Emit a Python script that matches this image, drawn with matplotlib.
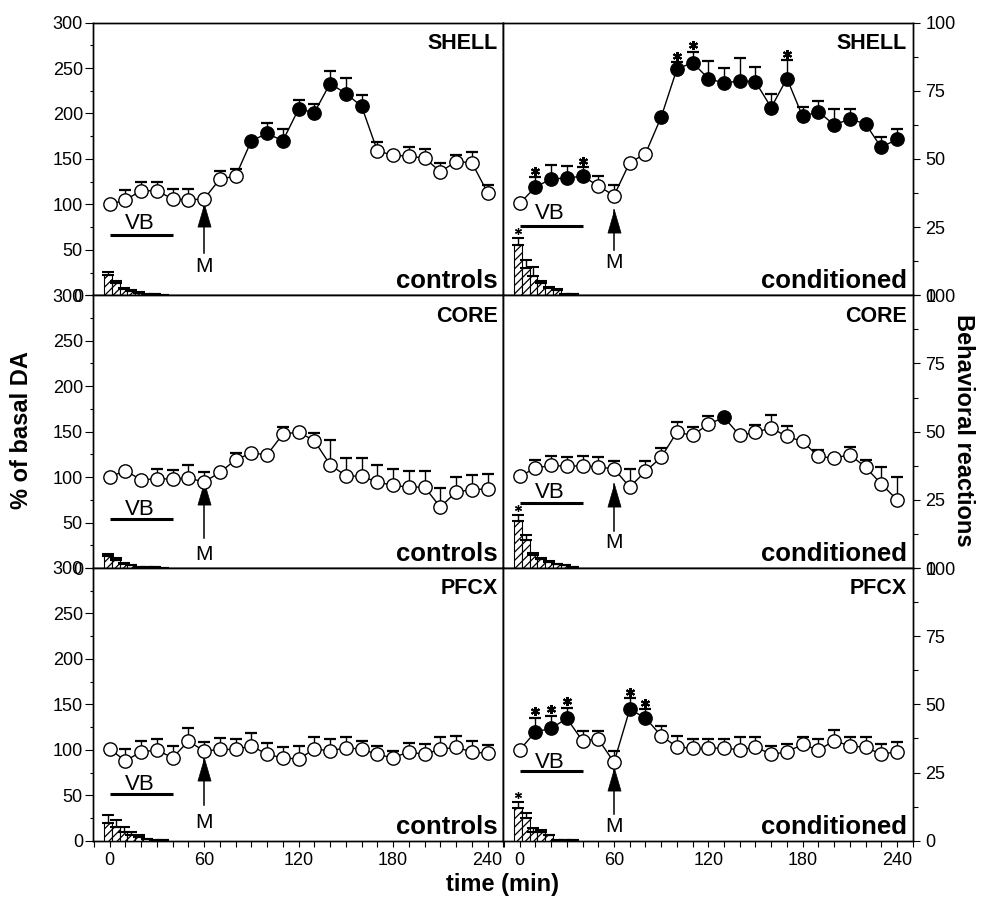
import matplotlib
matplotlib.use('Agg')
import matplotlib.pyplot as plt
import numpy as np
from matplotlib.ticker import MultipleLocator, FixedLocator
from matplotlib.path import Path

plt.rcParams['font.family'] = ['Liberation Sans', 'DejaVu Sans']
plt.rcParams['hatch.linewidth'] = 0.9

# ---------------- data ----------------
time_min = list(range(0, 250, 10))
bar_time = [0, 5, 10, 15, 20, 25, 30, 35]
regions = ['SHELL', 'CORE', 'PFCX']
groups = ['controls', 'conditioned']
x_ticks = [0, 60, 120, 180, 240]
da_ticks = [0, 50, 100, 150, 200, 250, 300]
beh_ticks = [0, 25, 50, 75, 100]

shell_ctrl_da = [100, 105, 115, 115, 106, 105, 106, 128, 131, 170, 178, 170, 205,
                 201, 233, 222, 208, 159, 154, 153, 151, 136, 147, 146, 113]
shell_ctrl_sem = [0, 11, 10, 9.5, 11, 11.5, 0, 8.6, 7.5, 0, 11, 13, 10,
                  10, 13.5, 17, 12.5, 9.5, 0, 10, 10, 10, 7.5, 11.5, 8]
shell_ctrl_sig = [0, 0, 0, 0, 0, 0, 0, 0, 0, 1, 1, 1, 1, 1, 1, 1, 1, 0, 0, 0, 0, 0, 0, 0, 0]
shell_ctrl_star = []
shell_ctrl_bar = [7.3, 4.5, 2.3, 1.5, 1.0, 0.5, 0.3, 0.2]
shell_ctrl_bar_sem = [1.3, 0.8, 0.4, 0.3, 0.2, 0, 0, 0]
shell_ctrl_bar_star = False

shell_cond_da = [101, 119, 128, 129, 131, 120.5, 109.6, 146, 155.7, 196, 248.8, 256, 238.5,
                 233.4, 236, 234.8, 206.6, 238.5, 196.7, 202, 187.6, 193.8, 188.7, 162.6, 171.9]
shell_cond_sem = [0, 11, 15.6, 12.8, 10, 10.3, 12, 0, 0, 0, 8, 12, 19.5,
                  17, 25.5, 16, 15, 20.5, 11, 12, 17.4, 11, 0, 11, 11]
shell_cond_sig = [0, 1, 1, 1, 1, 0, 0, 0, 0, 1, 1, 1, 1, 1, 1, 1, 1, 1, 1, 1, 1, 1, 1, 1, 1]
shell_cond_star = [1, 4, 10, 11, 17]
shell_cond_bar = [18.6, 10.0, 7.0, 4.5, 2.7, 2.1, 0.6, 0.3]
shell_cond_bar_sem = [2.4, 2.8, 3.4, 0.9, 0.5, 0.3, 0, 0]
shell_cond_bar_star = True

core_ctrl_da = [100.1, 107, 97, 98.2, 97.9, 99, 94.6, 105.2, 119, 126.5, 124.6, 147.3, 149.5,
                140, 113.6, 101.5, 100.8, 94.6, 90.9, 89, 89, 67, 83.6, 86.2, 87]
core_ctrl_sem = [0, 0, 0, 10.7, 9.5, 14, 10.6, 0, 8, 0, 0, 7.7, 0,
                 8.5, 26.7, 20, 20, 19, 18.3, 18, 18, 21, 17, 16.4, 16]
core_ctrl_sig = [0] * 25
core_ctrl_star = []
core_ctrl_bar = [4.3, 3.1, 1.5, 1.0, 0.5, 0.3, 0.2, 0.1]
core_ctrl_bar_sem = [0.9, 0.5, 0.2, 0, 0, 0, 0, 0]
core_ctrl_bar_star = False

core_cond_da = [100.8, 110, 112.9, 111.8, 112.5, 111, 109.2, 89, 106.3, 121.7, 149.5, 145.8, 158.3,
                165.6, 145.8, 149.5, 154, 144.7, 139.2, 122.7, 121, 124.6, 111, 92.4, 75.2]
core_cond_sem = [0, 8.4, 10.6, 10, 11, 11, 9, 20, 11, 10, 11, 9, 8.4,
                 0, 0, 7.3, 13.8, 12, 0, 7.4, 0, 9, 7.4, 18.3, 25]
core_cond_sig = [0] * 13 + [1] + [0] * 11
core_cond_star = []
core_cond_bar = [17.1, 10.2, 4.9, 3.3, 2.2, 1.5, 1.0, 0.5]
core_cond_bar_sem = [2.2, 1.8, 0.6, 0.5, 0.3, 0, 0, 0]
core_cond_bar_star = True

pfcx_ctrl_da = [100.8, 87.9, 97.8, 99.7, 91.2, 109.6, 98.6, 100.4, 100.4, 104.4, 94.9, 91.2, 89.8,
                100.8, 98.9, 102.2, 100.8, 94.9, 91.2, 97.8, 94.9, 100.8, 102.6, 97.8, 96]
pfcx_ctrl_sem = [0, 13, 12, 12, 13, 14, 10, 13, 11.4, 13.6, 12.8, 11.4, 14.6,
                 12.8, 12.9, 11.4, 9, 9, 7.7, 10, 11.3, 13.5, 12.8, 12, 9]
pfcx_ctrl_sig = [0] * 25
pfcx_ctrl_star = []
pfcx_ctrl_bar = [6.4, 5.1, 3.3, 2.1, 1.5, 0.6, 0.3, 0.2]
pfcx_ctrl_bar_sem = [3.0, 2.5, 1.6, 1.2, 0.6, 0, 0, 0]
pfcx_ctrl_bar_star = False

pfcx_cond_da = [99.7, 119.8, 123.5, 134.5, 109.9, 111.8, 86.2, 144.4, 135.2, 115.4, 103.3, 101.5, 101.5,
                102.2, 99.7, 103.3, 94.9, 97.8, 105.9, 99.7, 109.9, 104.4, 102.6, 95.3, 97.8]
pfcx_cond_sem = [0, 15.4, 14, 11.7, 10.6, 9, 12.7, 12.7, 9.5, 11, 11.7, 10.3, 10.3,
                 9.6, 14.6, 11, 9.5, 8.4, 8.4, 12.1, 11.7, 9.2, 11, 11, 10.3]
pfcx_cond_sig = [0, 1, 1, 1, 0, 0, 0, 1, 1] + [0] * 16
pfcx_cond_star = [1, 2, 3, 7, 8]
pfcx_cond_bar = [11.9, 8.4, 3.3, 3.3, 2.1, 0.3, 0.2, 0.1]
pfcx_cond_bar_sem = [2.4, 1.6, 1.2, 0.5, 0, 0, 0, 0]
pfcx_cond_bar_star = True

panels = [
    [(shell_ctrl_da, shell_ctrl_sem, shell_ctrl_sig, shell_ctrl_star, shell_ctrl_bar, shell_ctrl_bar_sem, shell_ctrl_bar_star),
     (shell_cond_da, shell_cond_sem, shell_cond_sig, shell_cond_star, shell_cond_bar, shell_cond_bar_sem, shell_cond_bar_star)],
    [(core_ctrl_da, core_ctrl_sem, core_ctrl_sig, core_ctrl_star, core_ctrl_bar, core_ctrl_bar_sem, core_ctrl_bar_star),
     (core_cond_da, core_cond_sem, core_cond_sig, core_cond_star, core_cond_bar, core_cond_bar_sem, core_cond_bar_star)],
    [(pfcx_ctrl_da, pfcx_ctrl_sem, pfcx_ctrl_sig, pfcx_ctrl_star, pfcx_ctrl_bar, pfcx_ctrl_bar_sem, pfcx_ctrl_bar_star),
     (pfcx_cond_da, pfcx_cond_sem, pfcx_cond_sig, pfcx_cond_star, pfcx_cond_bar, pfcx_cond_bar_sem, pfcx_cond_bar_star)],
]

# annotation placement (VB line y, VB text baseline, arrow tip, arrow tail, M baseline)
annot = [
    [(66, 73, 100.5, 47, 26), (76, 84, 93.4, 50, 30)],
    [(54, 58, 94.6, 33, 9.2), (71, 77, 92.4, 41, 22)],
    [(51, 55.7, 91.2, 39, 13.6), (76.6, 80.2, 79.5, 29, 9.9)],
]

# ---------------- figure ----------------
fig = plt.figure(figsize=(9.82, 8.97), dpi=100)
W, H = 982.0, 897.0
col_x = [93.3 / W, 503.3 / W]
col_w = [410.0 / W, 409.4 / W]
ph = 272.7 / H
bottom0 = (H - 840.7) / H

arrow_path = Path([(-0.29, -1.0), (0.29, -1.0), (0.0, 0.0), (-0.29, -1.0)],
                  [Path.MOVETO, Path.LINETO, Path.LINETO, Path.CLOSEPOLY])

t = np.array(time_min, dtype=float)
bt = np.array(bar_time, dtype=float)

for r in range(3):
    for c in range(2):
        da, sem, sig, stars, bars, bsem, bstar = panels[r][c]
        da = np.array(da, float)
        sem = np.array(sem, float)
        sig = np.array(sig, bool)
        bars = np.array(bars, float)
        bsem = np.array(bsem, float)
        vb_y, vb_ty, tip, tail, m_y = annot[r][c]

        b = bottom0 + (2 - r) * ph
        ax = fig.add_axes([col_x[c], b, col_w[c], ph])
        axb = ax.twinx()

        ax.set_xlim(-10.4, 250)
        ax.set_ylim(0, 300)
        axb.set_ylim(0, 100)

        # DA time course
        ax.errorbar(t, da, yerr=[np.zeros_like(sem), sem], fmt='none', ecolor='k',
                    elinewidth=1.0, capsize=4.3, capthick=1.6, zorder=2)
        ax.plot(t, da, '-', color='k', lw=1.0, zorder=3)
        ax.plot(t[~sig], da[~sig], 'o', ms=9.6, mfc='white', mec='k', mew=1.0,
                ls='none', zorder=4)
        ax.plot(t[sig], da[sig], 'o', ms=9.6, mfc='k', mec='k', mew=1.0,
                ls='none', zorder=4)
        for i in stars:
            ax.plot([t[i]], [da[i] + sem[i] + 7], marker=(6, 2, 0), ms=6.5, mew=1.5,
                    color='k', ls='none', zorder=5)

        # behavioural bars (right scale)
        axb.bar(bt - 1.2, bars, width=5.0, color='white', edgecolor='k', hatch='////',
                linewidth=0.8, zorder=2,
                yerr=[np.zeros_like(bsem), bsem],
                error_kw=dict(ecolor='k', elinewidth=1.0, capsize=4.0, capthick=1.5))
        if bstar:
            axb.plot([bt[0] - 1.2], [bars[0] + bsem[0] + 2.6], marker=(6, 2, 0), ms=5,
                     mew=0.9, color='k', ls='none', zorder=5)

        # VB line and text
        ax.plot([0, 40], [vb_y, vb_y], color='k', lw=2.2, solid_capstyle='butt', zorder=3)
        ax.text(19, vb_ty, 'VB', ha='center', va='baseline', fontsize=16, zorder=3)
        # M arrow
        ax.plot([60, 60], [tail, tip], color='k', lw=1.1, zorder=3)
        ax.plot([60], [tip], marker=arrow_path, ms=32.5, mfc='k', mec='k', mew=0.5,
                ls='none', zorder=3)
        ax.text(60, m_y, 'M', ha='center', va='baseline', fontsize=15, zorder=3)

        # labels
        ax.text(0.986, 0.962, regions[r], transform=ax.transAxes, ha='right', va='top',
                fontsize=15.5, fontweight='bold')
        ax.text(0.986, 0.026, groups[c], transform=ax.transAxes, ha='right', va='baseline',
                fontsize=18.5, fontweight='bold')

        # spines
        for a in (ax, axb):
            for s in a.spines.values():
                s.set_linewidth(1.0)

        # x axis
        ax.xaxis.set_major_locator(FixedLocator(x_ticks))
        ax.xaxis.set_minor_locator(FixedLocator(list(range(-10, 251, 10))))
        if r == 2:
            ax.tick_params(axis='x', which='both', direction='out', length=4.3, width=0.8,
                           labelsize=13, pad=4)
        else:
            ax.tick_params(axis='x', which='both', bottom=False, labelbottom=False)

        # y axes
        if c == 0:
            ax.yaxis.set_major_locator(FixedLocator(da_ticks))
            ax.yaxis.set_minor_locator(MultipleLocator(25))
            ax.tick_params(axis='y', which='major', direction='out', length=5.5, width=0.8,
                           labelsize=13, pad=2)
            ax.tick_params(axis='y', which='minor', direction='out', length=2.5, width=0.8)
            axb.set_yticks([])
            axb.tick_params(axis='y', which='both', right=False, labelright=False)
        else:
            ax.tick_params(axis='y', which='both', left=False, labelleft=False)
            axb.yaxis.set_major_locator(FixedLocator(beh_ticks))
            axb.yaxis.set_minor_locator(MultipleLocator(12.5))
            axb.tick_params(axis='y', which='major', direction='out', length=5.3, width=0.8,
                            labelsize=13, pad=4)
            axb.tick_params(axis='y', which='minor', direction='out', length=3.3, width=0.8)

fig.text(0.022, 0.52, '% of basal DA', rotation=90, ha='center', va='center',
         fontsize=17, fontweight='bold')
fig.text(0.981, 0.52, 'Behavioral reactions', rotation=270, ha='center', va='center',
         fontsize=17, fontweight='bold')
fig.text(0.512, 0.0134, 'time (min)', ha='center', va='center', fontsize=17, fontweight='bold')

fig.savefig('out.png', dpi=100)
